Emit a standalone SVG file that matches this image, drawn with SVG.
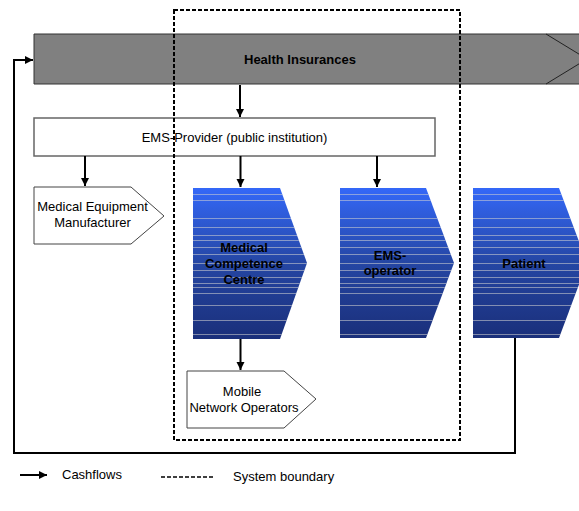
<svg xmlns="http://www.w3.org/2000/svg" width="579" height="511" viewBox="0 0 579 511">
<style>
text{font-family:"Liberation Sans",Arial,sans-serif;font-size:13px;fill:#000;text-anchor:middle}
.b{font-weight:bold}
.w{fill:#fff;stroke:#444;stroke-width:1}
.blue{fill:url(#bg);stroke:none}
.str{fill:url(#stripes);stroke:none}
.c{fill:none;stroke:#000;stroke-width:2}
</style>
<defs>
<linearGradient id="bg" x1="0" y1="0" x2="0" y2="1">
<stop offset="0" stop-color="#3468f8"/>
<stop offset="0.5" stop-color="#2546a3"/>
<stop offset="1" stop-color="#1a2f7a"/>
</linearGradient>
<pattern id="stripes" patternUnits="userSpaceOnUse" x="0" y="188" width="579" height="160">
<g fill="#d0d0d0" fill-opacity="0.7">
<rect x="0" y="6" width="579" height="0.8"/>
<rect x="0" y="12" width="579" height="0.8"/>
<rect x="0" y="30" width="579" height="0.8"/>
<rect x="0" y="39" width="579" height="0.8"/>
<rect x="0" y="47" width="579" height="0.8"/>
<rect x="0" y="52" width="579" height="0.8"/>
<rect x="0" y="59" width="579" height="0.8"/>
<rect x="0" y="66" width="579" height="0.8"/>
<rect x="0" y="75" width="579" height="0.8"/>
<rect x="0" y="82" width="579" height="0.8"/>
<rect x="0" y="89" width="579" height="0.8"/>
<rect x="0" y="95" width="579" height="0.8"/>
<rect x="0" y="99" width="579" height="0.8"/>
<rect x="0" y="105" width="579" height="0.8"/>
<rect x="0" y="117" width="579" height="0.8"/>
<rect x="0" y="132" width="579" height="0.8"/>
<rect x="0" y="146" width="579" height="0.8"/>
</g>
</pattern>
<marker id="ah" markerUnits="userSpaceOnUse" markerWidth="9" markerHeight="9" refX="8" refY="4" orient="auto">
<path d="M0,0 L8,4 L0,8 Z" fill="#000"/>
</marker>
</defs>

<g id="health-insurances">
<rect x="34" y="34" width="545" height="50" fill="#808080"/>
<path d="M579,34 L34,34 L34,84 L579,84" fill="none" stroke="#333" stroke-width="1"/>
<path d="M546,34 L587,59 L546,84" fill="none" stroke="#222" stroke-width="1"/>
<text class="b" x="300" y="64">Health Insurances</text>
</g>

<g id="ems-provider">
<rect x="34" y="118" width="401" height="38" fill="#fff" stroke="#666" stroke-width="1.5"/>
<text x="234.5" y="142">EMS-Provider (public institution)</text>
</g>

<g id="medical-equipment-manufacturer">
<path class="w" d="M34,187 L131,187 L164,216 L131,244 L34,244 Z"/>
<text x="92.5" y="211">Medical Equipment</text>
<text x="92.5" y="227">Manufacturer</text>
</g>

<g id="medical-competence-centre">
<path class="blue" d="M193,188 L280,188 L307,263 L280,339 L193,339 Z"/>
<path class="str" d="M193,188 L280,188 L307,263 L280,339 L193,339 Z"/>
<text class="b" x="244" y="252">Medical</text>
<text class="b" x="244" y="268">Competence</text>
<text class="b" x="244" y="284">Centre</text>
</g>

<g id="ems-operator">
<path class="blue" d="M340,188 L426,188 L454,263 L426,338 L340,338 Z"/>
<path class="str" d="M340,188 L426,188 L454,263 L426,338 L340,338 Z"/>
<text class="b" x="390" y="260">EMS-</text>
<text class="b" x="390" y="275">operator</text>
</g>

<g id="patient">
<path class="blue" d="M473,188 L559,188 L587,263 L559,338 L473,338 Z"/>
<path class="str" d="M473,188 L559,188 L587,263 L559,338 L473,338 Z"/>
<text class="b" x="524" y="268">Patient</text>
</g>

<g id="mobile-network-operators">
<path class="w" d="M187,371 L284,371 L316,399 L284,428 L187,428 Z"/>
<text x="242" y="396">Mobile</text>
<text x="244" y="412">Network Operators</text>
</g>

<g id="system-boundary">
<rect x="174" y="10" width="286" height="430" fill="none" stroke="#000" stroke-width="2" stroke-dasharray="4,2"/>
</g>

<g id="connectors">
<line class="c" x1="240" y1="85" x2="240" y2="117" marker-end="url(#ah)"/>
<line class="c" x1="85" y1="156" x2="85" y2="186" marker-end="url(#ah)"/>
<line class="c" x1="240.5" y1="156" x2="240.5" y2="187" marker-end="url(#ah)"/>
<line class="c" x1="377" y1="156" x2="377" y2="187" marker-end="url(#ah)"/>
<line class="c" x1="240.5" y1="339" x2="240.5" y2="370" marker-end="url(#ah)"/>
<polyline class="c" points="515,338 515,453 14,453 14,60 33,60" marker-end="url(#ah)"/>
</g>

<g id="legend">
<line class="c" x1="20" y1="475" x2="47" y2="475" marker-end="url(#ah)"/>
<text x="62" y="479" style="text-anchor:start">Cashflows</text>
<line x1="161" y1="477" x2="213" y2="477" stroke="#000" stroke-width="1.5" stroke-dasharray="4,2"/>
<text x="233" y="481" style="text-anchor:start">System boundary</text>
</g>
</svg>
